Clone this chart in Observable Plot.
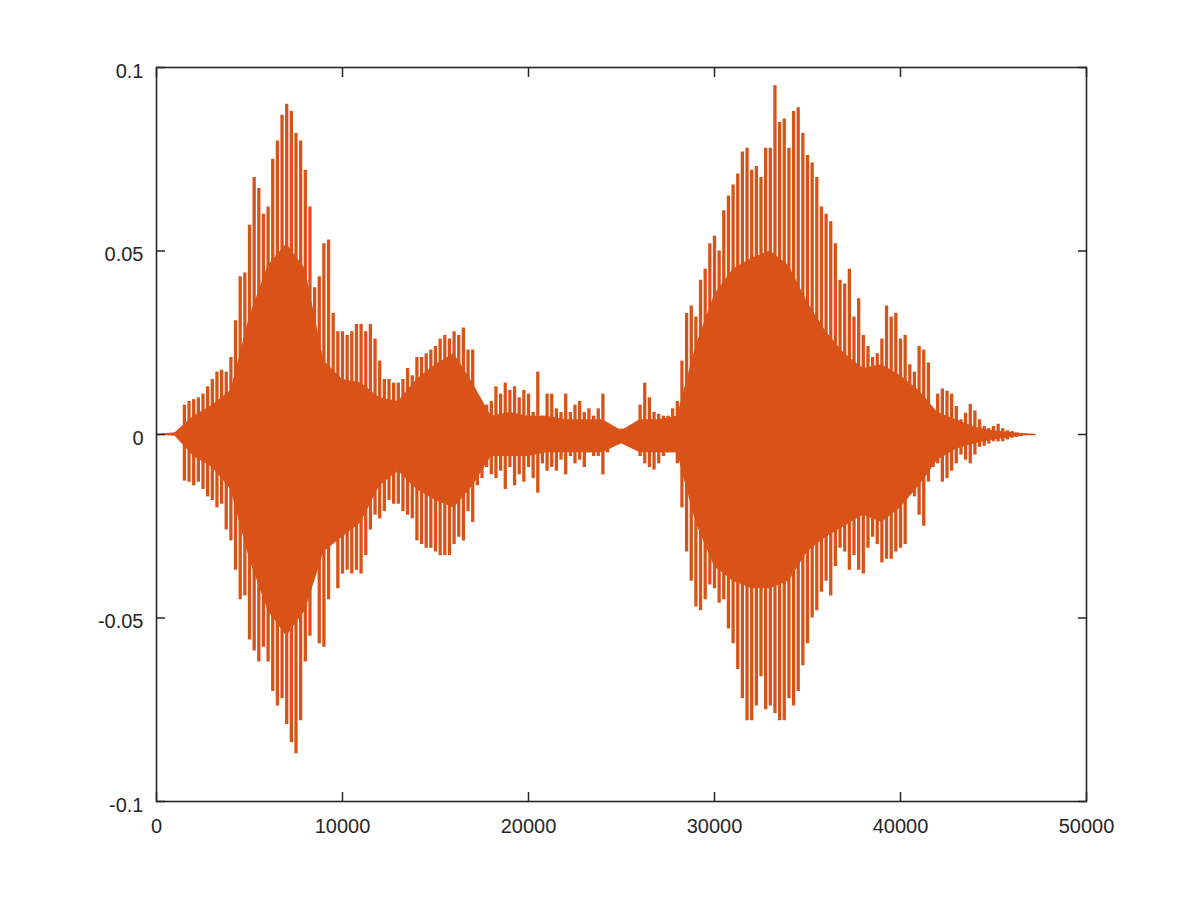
<!DOCTYPE html>
<html><head><meta charset="utf-8">
<script src="https://cdn.jsdelivr.net/npm/d3@7"></script>
<script src="https://cdn.jsdelivr.net/npm/@observablehq/plot@0.6"></script>
<style>html,body{margin:0;padding:0;background:#fff;}#chart{width:1200px;height:900px;}</style>
</head><body><div id="chart"></div>
<script>
// Axis ticks and labels
const xTicks = [0, 10000, 20000, 30000, 40000, 50000];
const xTickLabels = ["0", "10000", "20000", "30000", "40000", "50000"];
const yTicks = [-0.1, -0.05, 0, 0.05, 0.1];
const yTickLabels = ["-0.1", "-0.05", "0", "0.05", "0.1"];

// Recording length (samples) – waveform is flat at 0 outside the voiced parts
const signalLength = 47300;

// Pitch-pulse peaks, every 250 samples starting at sample 1500 (values in 1e-3)
const spikeStart = 1500, spikeStep = 250;
const spikeTop = [
  8, 9, 9.5, 10, 11, 13, 15, 17, 17.5, 17,
  21, 31, 43, 44, 57, 70, 67, 60, 62, 75,
  80, 87, 90, 88, 82, 80, 72, 62, 40, 43,
  52, 53, 33, 28, 28, 27, 28, 30, 30, 28,
  30, 26, 20, 15, 15, 14, 14, 15, 18, 16,
  21, 21, 22, 23, 24, 26, 27, 26, 28, 27,
  29, 23, 23, 9, 7, 8, 9, 13, 11, 14,
  12, 13, 10, 12, 11, 6, 17, 5, 11, 11,
  7, 6, 11, 6, 8, 9, 6, 7, 5, 7,
  11, 3, 1.5, 1.5, 1.5, 1, 1.5, 1, 8, 14,
  10, 6, 5.5, 5, 5, 7, 9, 20, 33, 35,
  32, 42, 45, 52, 54, 50, 61, 65, 68, 71,
  77, 78, 72, 73, 70, 78, 78, 95, 85, 86,
  78, 88, 89, 82, 76, 74, 70, 62, 60, 58,
  52, 42, 41, 45, 32, 37, 27, 24, 21, 22,
  26, 35, 32, 33, 26, 27, 19, 17, 24, 23,
  19.5, 6.4, 11, 12.4, 11.8, 11, 7.6, 4, 5.8, 8.2,
  6.4, 4, 2.2, 1.6, 2.2, 2.8, 1.6, 1, 0.8, 0.4,
  0.3, 0.2, 0.1
];
const spikeBottom = [
  -12.7, -13, -14, -13, -15, -17, -18, -20, -19, -26,
  -29, -37, -45, -44, -56, -59, -62, -58, -62, -70,
  -74, -72, -79, -84, -87, -78, -62, -55, -36, -57,
  -58, -45, -25, -42, -38, -37, -38, -37, -38, -33,
  -26, -22, -23, -21, -18, -19, -19, -21, -22, -23,
  -29, -30, -31, -31, -32, -33, -33, -33, -30, -28,
  -29, -21, -24, -14, -12, -9, -11, -12, -10, -15,
  -9, -14, -11, -13, -9, -12, -16, -8, -10, -9,
  -10, -7, -11, -6, -8, -7, -9, -5, -6, -6,
  -11, -5, -3, -3, -2.5, -3, -2.5, -3, -6, -8,
  -9, -9.7, -8, -6, -5, -5, -8, -20, -32, -40,
  -47, -48, -45, -41, -42, -46, -45, -53, -57, -64,
  -72, -78, -78, -74, -66, -75, -74, -76, -78, -78,
  -72, -74, -70, -63, -57, -50, -48, -43, -40, -44,
  -36, -31, -32, -37, -33, -37, -38, -31, -28, -30,
  -35, -34, -34, -32, -31, -30, -16, -17, -22, -25,
  -13, -9, -8, -13, -12, -10, -8, -5.6, -7, -8,
  -5.6, -3.5, -3.2, -2.6, -2, -2, -2, -1.5, -1, -0.8,
  -0.5, -0.3, -0.1
];

// Dense inner band of the waveform (values in 1e-3)
const bandSample = [0, 1000, 2000, 3000, 4000, 5000, 6000, 7000, 8000, 9000,
  10000, 11000, 12000, 13000, 14000, 15000, 16000, 17000, 18000, 19000,
  20000, 21000, 22000, 23000, 24000, 25000, 26000, 27000, 28000, 29000,
  30000, 31000, 32000, 33000, 34000, 35000, 36000, 37000, 38000, 39000,
  40000, 41000, 42000, 43000, 44000, 45000, 46000, 47000];
const bandTop = [0, 0.5, 5, 8, 12, 32, 46, 52, 45, 20,
  15, 14, 10, 9, 15, 19, 22, 14, 5, 6,
  5, 5, 4, 4, 4, 1, 4, 4, 5, 24,
  38, 45, 48, 50, 46, 36, 28, 22, 18, 19,
  16, 12, 6, 4, 2, 1, 0.5, 0];
const bandBottom = [0, -0.5, -6, -9, -15, -34, -48, -55, -48, -32,
  -28, -24, -14, -10, -15, -18, -20, -14, -6, -6,
  -6, -5, -5, -5, -5, -2.5, -5, -5, -5, -24,
  -36, -40, -42, -42, -40, -32, -28, -25, -22, -24,
  -20, -14, -7, -4, -2.5, -1.5, -0.8, 0];

const waveColor = "#D95319";
const axisColor = "#262626";

const spikes = spikeTop.map((t, i) => ({s: spikeStart + i * spikeStep, hi: t / 1000, lo: spikeBottom[i] / 1000}));
const band = bandSample.map((s, i) => ({s, hi: bandTop[i] / 1000, lo: bandBottom[i] / 1000}));
const xLabel = new Map(xTicks.map((t, i) => [t, xTickLabels[i]]));
const yLabel = new Map(yTicks.map((t, i) => [t, yTickLabels[i]]));

const chart = Plot.plot({
  width: 1200, height: 900,
  marginLeft: 156, marginRight: 114, marginTop: 67, marginBottom: 99,
  style: {fontFamily: "'Liberation Sans', Arial, sans-serif", fontSize: "20px", color: axisColor, background: "#fff"},
  x: {domain: [0, 50000], label: null},
  y: {domain: [-0.1, 0.1], label: null},
  marks: [
    Plot.ruleY([0], {x1: 0, x2: signalLength, stroke: waveColor, strokeWidth: 1.5}),
    Plot.areaY(band, {x: "s", y1: "lo", y2: "hi", fill: waveColor}),
    Plot.ruleX(spikes, {x: "s", y1: "lo", y2: "hi", stroke: waveColor, strokeWidth: 3.3}),
    Plot.frame({stroke: axisColor, strokeWidth: 1.6}),
    Plot.axisX(xTicks, {anchor: "bottom", tickSize: -9, strokeWidth: 1.5, tickFormat: () => "", label: null}),
    Plot.axisX(xTicks, {anchor: "top", tickSize: -9, strokeWidth: 1.5, tickFormat: () => "", label: null}),
    Plot.axisX(xTicks, {anchor: "bottom", tickSize: 0, tickPadding: 17, tickFormat: d => xLabel.get(d), fontSize: 20, label: null}),
    Plot.axisY(yTicks, {anchor: "left", tickSize: -9, strokeWidth: 1.5, tickFormat: () => "", label: null}),
    Plot.axisY(yTicks, {anchor: "right", tickSize: -9, strokeWidth: 1.5, tickFormat: () => "", label: null}),
    Plot.axisY(yTicks, {anchor: "left", tickSize: 0, tickPadding: 13, dy: 4, tickFormat: d => yLabel.get(d), fontSize: 20, label: null})
  ]
});
document.getElementById("chart").appendChild(chart);
</script></body></html>
